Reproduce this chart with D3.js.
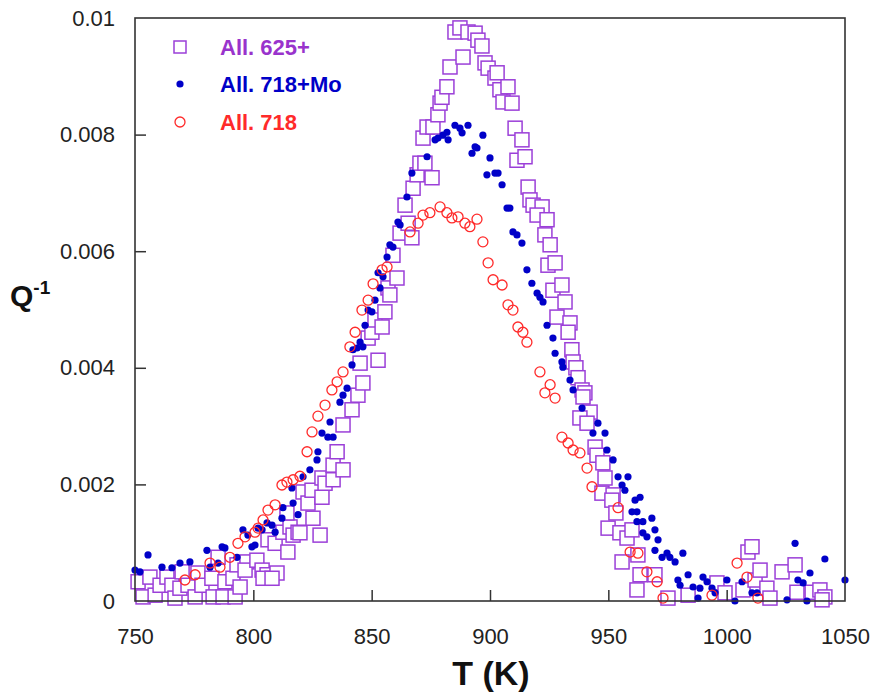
<!DOCTYPE html>
<html>
<head>
<meta charset="utf-8">
<script src="https://cdn.jsdelivr.net/npm/d3@7"></script>
<style>
  body { margin: 0; background: #fff; }
  svg { display: block; }
  text { font-family: Arial, "Liberation Sans", sans-serif; }
</style>
</head>
<body>
<svg id="chart" width="872" height="693"></svg>
<script>
// ---------- data (T in K, Q^-1) ----------
const seriesNames = ["All. 625+", "All. 718+Mo", "All. 718"];

const all625 = [
[751.3,0.00033],[753.4,0.00007],[756.3,0.00041],[758.5,0.00010],[760.6,0.00027],[763.5,0.00041],[765.6,0.00027],[766.9,0.00005],
[769.9,0.00050],[769.0,0.00022],[772.4,0.00027],[775.4,0.00007],[776.6,0.00048],[778.3,0.00027],[782.5,0.00039],[783.0,0.00007],
[785.1,0.00075],[787.2,0.00007],[788.0,0.00033],[791.4,0.00039],[793.1,0.00062],[792.3,0.00007],[794.4,0.00024],[797.3,0.00067],
[796.5,0.00053],[801.5,0.00070],[803.7,0.00053],[805.8,0.00045],[804.1,0.00039],[810.0,0.00048],[807.9,0.00039],[806.2,0.00105],
[809.2,0.00099],[812.5,0.00118],[814.6,0.00084],[815.5,0.00127],[816.8,0.00113],[818.9,0.00118],[814.2,0.00151],[819.7,0.00117],
[821.0,0.00187],[823.1,0.00168],[825.2,0.00142],[828.2,0.00113],[824.8,0.00190],[829.0,0.00178],[829.0,0.00211],[830.3,0.00202],
[833.7,0.00208],[833.7,0.00233],[835.4,0.00256],[837.9,0.00225],[837.9,0.00302],[841.7,0.00328],[844.2,0.00353],[846.3,0.00374],
[845.1,0.00408],[852.7,0.00413],[848.5,0.00451],[850.1,0.00461],[851.4,0.00482],[854.4,0.00470],[855.6,0.00496],[856.9,0.00537],
[857.7,0.00525],[859.0,0.00593],[860.7,0.00554],[862.0,0.00631],[864.1,0.00679],[865.4,0.00648],[867.0,0.00623],[867.5,0.00708],
[869.2,0.00731],[870.4,0.00751],[872.5,0.00751],[875.5,0.00726],[871.7,0.00794],[873.4,0.00813],[875.9,0.00813],[878.0,0.00834],
[878.9,0.00854],[879.7,0.00864],[881.8,0.00882],[883.1,0.00916],[885.2,0.00976],[887.3,0.00983],[888.6,0.00933],[890.7,0.00976],
[893.7,0.00974],[894.9,0.00962],[896.6,0.00952],[897.9,0.00923],[899.2,0.00914],[902.1,0.00897],[903.0,0.00906],[904.2,0.00877],
[905.5,0.00856],[907.6,0.00882],[909.3,0.00854],[910.6,0.00811],[913.5,0.00791],[911.4,0.00756],[914.8,0.00762],[916.1,0.00710],
[916.9,0.00688],[918.2,0.00679],[922.0,0.00676],[919.9,0.00662],[924.1,0.00654],[923.2,0.00628],[925.4,0.00611],[924.5,0.00576],
[927.5,0.00580],[926.6,0.00533],[930.4,0.00542],[931.7,0.00513],[928.3,0.00487],[933.8,0.00477],[933.0,0.00461],[934.6,0.00431],
[935.1,0.00410],[936.3,0.00400],[937.2,0.00383],[938.9,0.00362],[940.1,0.00357],[939.3,0.00350],[942.3,0.00324],[938.0,0.00314],
[941.0,0.00305],[944.4,0.00264],[945.2,0.00250],[947.7,0.00237],[948.6,0.00211],[947.3,0.00185],[952.0,0.00182],[951.5,0.00173],
[953.2,0.00151],[949.9,0.00125],[954.9,0.00117],[957.9,0.00108],[960.0,0.00122],[955.8,0.00067],[962.5,0.00079],[963.4,0.00045],
[969.7,0.00045],[962.1,0.00019],[975.2,0.00005],[983.7,0.00010],[995.9,0.00031],[999.3,0.00014],[1006.9,0.00019],[1009.0,0.00084],
[1010.7,0.00093],[1012.0,0.00036],[1014.1,0.00053],[1017.0,0.00022],[1018.3,0.00005],[1023.4,0.00050],[1028.9,0.00062],[1029.7,0.00015],
[1036.1,0.00015],[1039.4,0.00019],[1041.5,0.00007],[1040.3,0.00002]
];

const all718Mo = [
[750.0,0.00053],[752.1,0.00050],[755.5,0.00079],[761.4,0.00058],[765.6,0.00057],[769.0,0.00065],[773.2,0.00067],[780.4,0.00087],
[781.7,0.00058],[785.1,0.00065],[786.8,0.00093],[788.0,0.00091],[793.1,0.00075],[795.6,0.00122],[797.7,0.00113],[799.4,0.00093],
[800.7,0.00096],[802.0,0.00125],[803.7,0.00122],[805.8,0.00134],[807.9,0.00130],[809.2,0.00118],[812.1,0.00142],[812.5,0.00160],
[816.8,0.00168],[816.3,0.00194],[818.9,0.00148],[821.0,0.00213],[823.9,0.00225],[826.9,0.00242],[827.3,0.00256],[829.0,0.00288],
[831.5,0.00281],[833.7,0.00281],[832.4,0.00307],[836.6,0.00341],[837.9,0.00353],[839.6,0.00365],[841.7,0.00405],[842.1,0.00431],
[843.8,0.00434],[845.1,0.00444],[846.3,0.00436],[847.2,0.00473],[848.5,0.00499],[850.1,0.00496],[851.4,0.00516],[853.5,0.00537],
[852.7,0.00563],[854.8,0.00556],[856.5,0.00590],[857.7,0.00611],[859.0,0.00607],[861.1,0.00650],[862.0,0.00645],[864.9,0.00693],
[867.0,0.00734],[873.4,0.00762],[876.8,0.00791],[878.0,0.00794],[880.1,0.00799],[881.8,0.00804],[882.3,0.00791],[885.2,0.00816],
[887.3,0.00811],[888.2,0.00803],[890.7,0.00816],[897.0,0.00799],[893.7,0.00779],[894.5,0.00777],[892.4,0.00768],[900.0,0.00760],
[898.7,0.00731],[902.1,0.00734],[903.4,0.00734],[905.1,0.00714],[907.2,0.00674],[908.4,0.00674],[909.7,0.00633],[911.4,0.00628],
[913.5,0.00614],[915.6,0.00568],[917.7,0.00545],[919.9,0.00528],[921.1,0.00521],[922.4,0.00513],[924.1,0.00473],[926.6,0.00451],
[927.5,0.00425],[930.4,0.00410],[930.8,0.00401],[933.8,0.00379],[935.1,0.00362],[938.9,0.00331],[943.5,0.00288],[945.6,0.00305],
[948.6,0.00288],[949.4,0.00259],[952.0,0.00242],[954.1,0.00213],[958.3,0.00213],[955.8,0.00199],[957.0,0.00190],[961.3,0.00173],
[963.4,0.00178],[960.0,0.00153],[962.1,0.00153],[962.1,0.00136],[964.6,0.00136],[968.4,0.00142],[964.6,0.00117],[969.7,0.00122],
[966.3,0.00110],[971.0,0.00105],[969.7,0.00087],[972.7,0.00075],[974.8,0.00082],[976.0,0.00075],[978.2,0.00067],[981.5,0.00082],
[983.7,0.00045],[979.4,0.00036],[980.3,0.00027],[985.8,0.00024],[988.7,0.00022],[990.0,0.00041],[991.7,0.00033],[993.8,0.00022],
[987.9,0.00005],[995.1,0.00014],[1000.1,0.00036],[1006.5,0.00033],[1003.5,0.00000],[1010.7,0.00014],[1012.8,0.00014],[1025.5,0.00002],
[1028.9,0.00099],[1030.1,0.00036],[1032.3,0.00031],[1035.2,0.00048],[1033.9,0.00000],[1041.5,0.00072],[1050.0,0.00036]
];

const all718 = [
[771.1,0.00036],[775.4,0.00045],[781.7,0.00065],[785.9,0.00058],[790.1,0.00075],[793.5,0.00099],[796.5,0.00110],[800.7,0.00118],
[802.0,0.00125],[804.1,0.00139],[806.2,0.00156],[809.2,0.00165],[812.1,0.00199],[814.2,0.00204],[816.8,0.00208],[819.7,0.00214],
[822.7,0.00256],[824.8,0.00290],[827.3,0.00317],[830.3,0.00336],[833.2,0.00362],[835.4,0.00376],[837.9,0.00393],[840.8,0.00436],
[843.0,0.00461],[845.9,0.00499],[848.5,0.00516],[850.6,0.00544],[854.4,0.00568],[856.5,0.00573],[866.2,0.00633],[869.6,0.00648],
[871.7,0.00662],[874.6,0.00666],[878.9,0.00676],[881.8,0.00666],[883.9,0.00657],[886.5,0.00659],[889.4,0.00648],[891.5,0.00642],
[894.5,0.00655],[897.0,0.00616],[899.2,0.00580],[901.3,0.00551],[905.1,0.00542],[907.6,0.00508],[909.7,0.00499],[911.8,0.00470],
[913.9,0.00461],[915.6,0.00444],[921.1,0.00393],[923.2,0.00357],[925.4,0.00371],[927.5,0.00348],[930.4,0.00281],[933.0,0.00271],
[935.1,0.00259],[938.0,0.00254],[941.0,0.00228],[943.1,0.00196],[954.1,0.00160],[959.2,0.00084],[962.5,0.00082],[966.3,0.00050],
[970.6,0.00033],[973.1,0.00005],[993.8,0.00010],[1004.4,0.00065],[1008.6,0.00041],[1013.2,0.00005]
];

const xTicks = [750, 800, 850, 900, 950, 1000, 1050];
const yTicks = [0, 0.002, 0.004, 0.006, 0.008, 0.01];
const yTickLabels = ["0", "0.002", "0.004", "0.006", "0.008", "0.01"];

// ---------- layout ----------
const W = 872, H = 693;
const m = { left: 135, right: 27, top: 18, bottom: 92 };
const pw = W - m.left - m.right, ph = H - m.top - m.bottom;

const colPurpleMark = "#9b3fd8", colPurpleText = "#9933cc";
const colBlue = "#0000c8", colRed = "#ff2a2a";
const axisCol = "#333";

const svg = d3.select("#chart");
const g = svg.append("g").attr("transform", `translate(${m.left},${m.top})`);

const x = d3.scaleLinear().domain([750, 1050]).range([0, pw]);
const y = d3.scaleLinear().domain([0, 0.01]).range([ph, 0]);

// ---------- marks ----------
// purple squares (white filled, drawn first)
const sq = 14;
g.append("g").selectAll("rect").data(all625).join("rect")
  .attr("x", d => x(d[0]) - sq / 2).attr("y", d => y(d[1]) - sq / 2)
  .attr("width", sq).attr("height", sq)
  .attr("fill", "#fff").attr("stroke", colPurpleMark).attr("stroke-width", 1.5);

// blue filled dots
g.append("g").selectAll("circle").data(all718Mo).join("circle")
  .attr("cx", d => x(d[0])).attr("cy", d => y(d[1])).attr("r", 3.6)
  .attr("fill", colBlue);

// red open circles
g.append("g").selectAll("circle").data(all718).join("circle")
  .attr("cx", d => x(d[0])).attr("cy", d => y(d[1])).attr("r", 5)
  .attr("fill", "none").attr("stroke", colRed).attr("stroke-width", 1.3);

// ---------- axes ----------
const xAxis = d3.axisBottom(x).tickValues(xTicks).tickSizeInner(-11).tickSizeOuter(0).tickPadding(27)
  .tickFormat(d3.format("d"));
const gx = g.append("g").attr("transform", `translate(0,${ph})`).call(xAxis);
const yAxis = d3.axisLeft(y).tickValues(yTicks).tickSizeInner(-11).tickSizeOuter(0).tickPadding(20)
  .tickFormat((d, i) => yTickLabels[i]);
const gy = g.append("g").call(yAxis);

[gx, gy].forEach(a => {
  a.selectAll(".domain").remove();
  a.selectAll(".tick line").attr("stroke", axisCol).attr("stroke-width", 1.5);
  a.selectAll(".tick text").attr("fill", "#222").style("font-size", "22px")
    .style("font-family", "Arial, 'Liberation Sans', sans-serif");
});
// hide ticks coinciding with frame
gx.selectAll(".tick line").filter(d => d === 750 || d === 1050).remove();
gy.selectAll(".tick line").filter(d => d === 0 || d === 0.01).remove();

// frame
g.append("rect").attr("x", 0).attr("y", 0).attr("width", pw).attr("height", ph)
  .attr("fill", "none").attr("stroke", axisCol).attr("stroke-width", 1.6);

// axis titles
svg.append("text").attr("x", 491).attr("y", 685).attr("text-anchor", "middle")
  .style("font-size", "34px").style("font-weight", "bold").attr("fill", "#111").text("T (K)");

const qt = svg.append("text").attr("x", 10).attr("y", 306)
  .style("font-size", "30px").style("font-weight", "bold").attr("fill", "#111");
qt.append("tspan").text("Q");
qt.append("tspan").attr("dy", -12).style("font-size", "19px").text("-1");

// ---------- legend ----------
const legend = svg.append("g");
const legY = [47, 84, 122];
const legCols = [colPurpleText, colBlue, colRed];
legend.append("rect").attr("x", 174).attr("y", legY[0] - 6).attr("width", 12).attr("height", 12)
  .attr("fill", "#fff").attr("stroke", colPurpleMark).attr("stroke-width", 1.5);
legend.append("circle").attr("cx", 180).attr("cy", legY[1]).attr("r", 3.6).attr("fill", colBlue);
legend.append("circle").attr("cx", 180).attr("cy", legY[2]).attr("r", 5)
  .attr("fill", "none").attr("stroke", colRed).attr("stroke-width", 1.3);
seriesNames.forEach((n, i) => {
  legend.append("text").attr("x", 220).attr("y", legY[i] + 8)
    .style("font-size", "22px").style("font-weight", "bold").attr("fill", legCols[i]).text(n);
});
</script>
</body>
</html>
